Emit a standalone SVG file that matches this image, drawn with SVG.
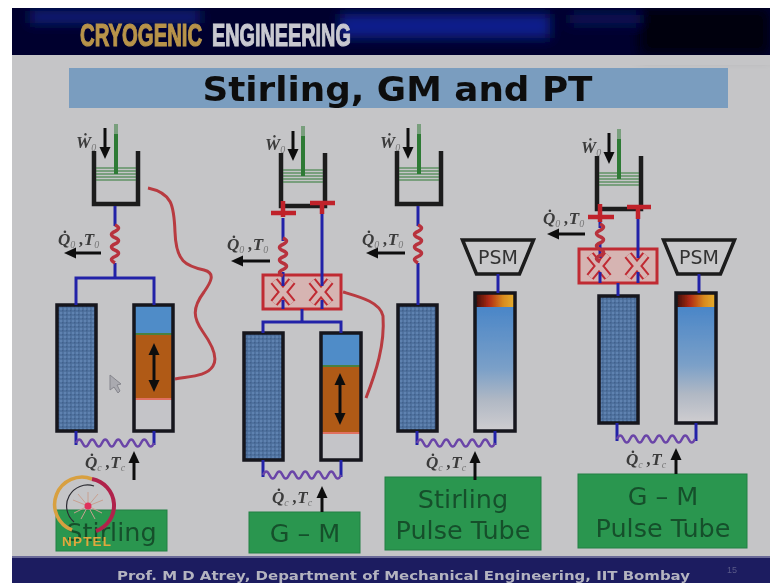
<svg xmlns="http://www.w3.org/2000/svg" xmlns:xlink="http://www.w3.org/1999/xlink" width="770" height="583" viewBox="0 0 770 583">
<style>
.wall{fill:none;stroke:#1e1e1e;stroke-width:4.500}
.rod{stroke:#2f7a35;stroke-width:4;fill:none}
.pl{stroke:#2f7a35;stroke-width:1.100;fill:none}
.blue{stroke:#2424a8;stroke-width:3;fill:none}
.coil{stroke:#b8303c;stroke-width:3.500;fill:none}
.wave{stroke:#6a45a8;stroke-width:2.500;fill:none}
.curve{stroke:#b83a40;stroke-width:3;fill:none}
.arr{stroke:#111;stroke-width:3;fill:none;marker-end:url(#ah)}
.dbl{stroke:#111;stroke-width:3;fill:none;marker-end:url(#ah);marker-start:url(#ahs)}
.sym{font-family:"Liberation Serif",serif;font-style:italic;font-weight:bold;font-size:17px;fill:#3a3a3a}
.sub{font-size:10px;font-weight:normal;fill:#777}
.box{fill:#2b9650;stroke:#228044;stroke-width:1}
.lab{font-family:"DejaVu Sans",sans-serif;fill:#14502c;text-anchor:middle;font-size:25.500px}
.reg{fill:url(#mesh);stroke:#15151c;stroke-width:3.500}
.tube{fill:none;stroke:#15151c;stroke-width:3.500}
.psm{fill:#c8c8ca;stroke:#1a1a1a;stroke-width:3.500}
.psmt{font-family:"DejaVu Sans",sans-serif;font-size:19px;fill:#333;text-anchor:middle}
.vbox{fill:#d6b4b2;stroke:#c02a32;stroke-width:3}
.vr{stroke:#c02a32;stroke-width:9;fill:none}
.vp{stroke:#d6b4b2;stroke-width:5;fill:none}
.vt{stroke:#c0202c;stroke-width:4.500;fill:none}
.hd{font-family:"Liberation Sans",sans-serif;font-weight:bold;font-size:31px;stroke-width:1.200}
</style>
<defs>
<filter id="soft" x="0" y="0" width="100%" height="100%"><feGaussianBlur stdDeviation="0.55"/></filter>
<filter id="bl" x="-20%" y="-50%" width="140%" height="200%"><feGaussianBlur stdDeviation="6"/></filter>
<marker id="ah" markerUnits="userSpaceOnUse" markerWidth="12" markerHeight="13" refX="1" refY="6.500" orient="auto"><path d="M0,1 L12,6.500 L0,12 Z" fill="#111"/></marker>
<marker id="ahs" markerUnits="userSpaceOnUse" markerWidth="12" markerHeight="13" refX="11" refY="6.500" orient="auto"><path d="M12,1 L0,6.500 L12,12 Z" fill="#111"/></marker>
<pattern id="mesh" width="4" height="4" patternUnits="userSpaceOnUse"><rect width="4" height="4" fill="#50729f"/><rect width="2" height="2" fill="#5f82b0"/><rect x="2" y="2" width="1.500" height="1.500" fill="#40608c"/></pattern>
<linearGradient id="hot" x1="0" x2="1" y1="0" y2="0"><stop offset="0" stop-color="#3a0c08"/><stop offset=".35" stop-color="#b02a14"/><stop offset=".7" stop-color="#d88a1e"/><stop offset="1" stop-color="#e6b030"/></linearGradient>
<linearGradient id="pt" x1="0" x2="0" y1="0" y2="1"><stop offset="0" stop-color="#4a86c8"/><stop offset=".5" stop-color="#7ba0c8"/><stop offset=".75" stop-color="#b0b8c4"/><stop offset="1" stop-color="#cfcdd0"/></linearGradient>
<g id="cyl">
<path class="wall" d="M0,0 V53 H44 V0"/>
<path class="rod" d="M22,-17 V23"/>
<path class="pl" d="M20,-26 H24 M20,-24 H24 M20,-22 H24 M20,-20 H24 M20,-18 H24 M2,17 H42 M2,20 H42 M2,23 H42 M2,26 H42 M2,29 H42"/>
</g>
<g id="vbx">
<rect class="vbox" x="0" y="0" width="78" height="34"/>
<path class="vr" d="M11,6 L29,28 M29,6 L11,28 M49,6 L67,28 M67,6 L49,28"/>
<path class="vp" d="M11,6 L29,28 M29,6 L11,28 M49,6 L67,28 M67,6 L49,28"/>
</g>
<path id="cl" class="coil" d="M0,0 q7,3 0,6.300 q-7,3 0,6.300 q7,3 0,6.300 q-7,3 0,6.300 q7,3 0,6.300 q-7,3 0,6.300"/>
<path id="wv" class="wave" d="M0,4 q3.250,-7 6.500,0 t6.500,0 t6.500,0 t6.500,0 t6.500,0 t6.500,0 t6.500,0 t6.500,0 t6.500,0 t6.500,0 t6.500,0 t6.500,0"/>
<g id="psmn">
<path class="psm" d="M0,0 H71 L57,34 H14 Z"/>
<text class="psmt" x="35.500" y="24">PSM</text>
</g>
</defs>
<rect width="770" height="583" fill="#fff"/>
<g filter="url(#soft)">
<rect x="12" y="8" width="758" height="575" fill="#c5c5c7"/>
<g id="header">
<rect x="12" y="8" width="758" height="47" fill="#03062e"/>
<g filter="url(#bl)">
<rect x="30" y="11" width="170" height="12" fill="#0e1c80"/>
<rect x="340" y="14" width="210" height="24" fill="#0a1a8c"/>
<rect x="570" y="14" width="110" height="10" fill="#0a1660"/>
<rect x="640" y="8" width="130" height="47" fill="#010210"/>
</g>
<rect x="0" y="0" width="770" height="8" fill="#fff"/>
<rect x="0" y="0" width="12" height="60" fill="#fff"/>
<rect x="12" y="55" width="758" height="10" fill="#c5c5c7"/>
<text class="hd" transform="translate(80,46) scale(.655,1)" fill="#b8934a" stroke="#b8934a">CRYOGENIC</text>
<text class="hd" transform="translate(212,46) scale(.64,1)" fill="#c8c8d0" stroke="#c8c8d0">ENGINEERING</text>
</g>
<g id="title">
<rect x="69" y="68" width="659" height="40" fill="#7a9dbf"/>
<text x="397.500" y="101" text-anchor="middle" font-family="'DejaVu Sans',sans-serif" font-weight="bold" font-size="33" fill="#111" textLength="390" lengthAdjust="spacingAndGlyphs">Stirling, GM and PT</text>
</g>
<g id="stirling">
<use xlink:href="#cyl" href="#cyl" x="94" y="151"/>
<text class="sym" x="76" y="148">W&#775;<tspan class="sub" dy="3">0</tspan></text>
<text class="sym" x="58" y="245">Q&#775;<tspan class="sub" dy="3">0</tspan><tspan dy="-3"> ,T</tspan><tspan class="sub" dy="3">0</tspan></text>
<rect class="reg" x="57" y="305" width="39" height="126"/>
<rect x="134" y="305" width="39" height="28" fill="#4f8cc8"/>
<rect x="134" y="333" width="39" height="2" fill="#4a8040"/>
<rect x="134" y="335" width="39" height="63" fill="#b05a18"/>
<rect x="134" y="398" width="39" height="2" fill="#e07060"/>
<rect x="134" y="400" width="39" height="31" fill="#c4c4c8"/>
<rect class="tube" x="134" y="305" width="39" height="126"/>
<path class="dbl" d="M154,354 V381"/>
<text class="sym" x="85" y="468">Q&#775;<tspan class="sub" dy="3">c</tspan><tspan dy="-3"> ,T</tspan><tspan class="sub" dy="3">c</tspan></text>
<rect class="box" x="56" y="510" width="111" height="41"/>
<text class="lab" x="111.500" y="541">Stirling</text>
</g>
<g id="gm">
<use xlink:href="#cyl" href="#cyl" x="281" y="153"/>
<path class="vt" d="M271,213 H296 M283,201 V217 M310,203 H335 M322,201 V214"/>
<text class="sym" x="265" y="150">W&#775;<tspan class="sub" dy="3">0</tspan></text>
<text class="sym" x="227" y="250">Q&#775;<tspan class="sub" dy="3">0</tspan><tspan dy="-3"> ,T</tspan><tspan class="sub" dy="3">0</tspan></text>
<use xlink:href="#vbx" href="#vbx" x="263" y="275"/>
<rect class="reg" x="244" y="333" width="39" height="127"/>
<rect x="321" y="333" width="40" height="32" fill="#4f8cc8"/>
<rect x="321" y="365" width="40" height="2" fill="#4a8040"/>
<rect x="321" y="367" width="40" height="65" fill="#b05a18"/>
<rect x="321" y="432" width="40" height="2" fill="#e07060"/>
<rect x="321" y="434" width="40" height="26" fill="#c4c4c8"/>
<rect class="tube" x="321" y="333" width="40" height="127"/>
<path class="dbl" d="M340,384 V414"/>
<text class="sym" x="272" y="503">Q&#775;<tspan class="sub" dy="3">c</tspan><tspan dy="-3"> ,T</tspan><tspan class="sub" dy="3">c</tspan></text>
<rect class="box" x="249" y="512" width="111" height="41"/>
<text class="lab" x="305" y="542">G – M</text>
</g>
<g id="stirling-pt">
<use xlink:href="#cyl" href="#cyl" x="397" y="151"/>
<text class="sym" x="380" y="148">W&#775;<tspan class="sub" dy="3">0</tspan></text>
<text class="sym" x="362" y="245">Q&#775;<tspan class="sub" dy="3">0</tspan><tspan dy="-3"> ,T</tspan><tspan class="sub" dy="3">0</tspan></text>
<rect class="reg" x="398" y="305" width="39" height="126"/>
<rect x="475" y="293" width="40" height="14" fill="url(#hot)"/>
<rect x="475" y="307" width="40" height="124" fill="url(#pt)"/>
<rect class="tube" x="475" y="293" width="40" height="138"/>
<use xlink:href="#psmn" href="#psmn" x="462.500" y="240"/>
<text class="sym" x="426" y="468">Q&#775;<tspan class="sub" dy="3">c</tspan><tspan dy="-3"> ,T</tspan><tspan class="sub" dy="3">c</tspan></text>
<rect class="box" x="385" y="477" width="156" height="73"/>
<text class="lab" x="463" y="508">Stirling</text>
<text class="lab" x="463" y="539">Pulse Tube</text>
</g>
<g id="gm-pt">
<use xlink:href="#cyl" href="#cyl" x="597" y="156"/>
<path class="vt" d="M588,217 H614 M600,204 V222 M627,207 H651 M638,205 V219"/>
<text class="sym" x="581" y="153">W&#775;<tspan class="sub" dy="3">0</tspan></text>
<text class="sym" x="543" y="224">Q&#775;<tspan class="sub" dy="3">0</tspan><tspan dy="-3"> ,T</tspan><tspan class="sub" dy="3">0</tspan></text>
<use xlink:href="#vbx" href="#vbx" x="579" y="249"/>
<rect class="reg" x="599" y="296" width="39" height="127"/>
<rect x="676" y="293" width="40" height="14" fill="url(#hot)"/>
<rect x="676" y="307" width="40" height="116" fill="url(#pt)"/>
<rect class="tube" x="676" y="293" width="40" height="130"/>
<use xlink:href="#psmn" href="#psmn" x="663.500" y="240"/>
<text class="sym" x="626" y="465">Q&#775;<tspan class="sub" dy="3">c</tspan><tspan dy="-3"> ,T</tspan><tspan class="sub" dy="3">c</tspan></text>
<rect class="box" x="578" y="474" width="169" height="74"/>
<text class="lab" x="663" y="505">G – M</text>
<text class="lab" x="663" y="537">Pulse Tube</text>
</g>
<g id="connectors">
<path class="blue" d="M115,206 V226 M115,263 V278 M76,305 V278 H154 V305"/>
<use xlink:href="#cl" href="#cl" x="115" y="225"/>
<path class="blue" d="M76,431 V445 M154,431 V445"/>
<use xlink:href="#wv" href="#wv" x="76" y="439"/>
<path class="curve" d="M148,188 C172,193 174,205 175,232 C176,262 186,266 204,270 C216,273 211,282 204,292 C192,308 193,318 203,332 C213,346 218,358 213,366 C207,376 192,376 175,379"/>
<path class="arr" d="M101,253 H75"/>
<path class="arr" d="M105,128 V148"/>
<path class="arr" d="M134,480 V462"/>
<path class="blue" d="M283,218 V241 M283,272 V286 M283,300 V309 M322,214 V286 M322,300 V309 M302,309 V322 M263,333 V322 H341 V333"/>
<use xlink:href="#cl" href="#cl" x="283" y="238"/>
<path class="blue" d="M263,460 V477 M341,460 V477"/>
<use xlink:href="#wv" href="#wv" x="263" y="471"/>
<path class="curve" d="M343,292 C360,297 380,302 383,316 C385,345 376,372 366,398"/>
<path class="arr" d="M270,261 H242"/>
<path class="arr" d="M293,131 V150"/>
<path class="arr" d="M322,512 V497"/>
<path class="blue" d="M418,206 V226 M418,263 V305 M498,274 V293"/>
<use xlink:href="#cl" href="#cl" x="418" y="225"/>
<path class="blue" d="M417,431 V445 M495,431 V445"/>
<use xlink:href="#wv" href="#wv" x="417" y="439"/>
<path class="arr" d="M405,253 H377"/>
<path class="arr" d="M408,128 V148"/>
<path class="arr" d="M475,480 V462"/>
<path class="blue" d="M600,222 V228 M600,244 V258 M600,272 V283 M638,219 V258 M638,272 V283 M618,283 V296 M699,274 V293"/>
<use xlink:href="#cl" href="#cl" x="600" y="224"/>
<path class="blue" d="M617,423 V441 M696,423 V441"/>
<use xlink:href="#wv" href="#wv" x="617" y="435"/>
<path class="arr" d="M585,234 H558"/>
<path class="arr" d="M609,133 V153"/>
<path class="arr" d="M676,474 V459"/>
</g>
<g id="cursor">
<path d="M110,375 L110,390 L114,387 L118,393 L120,391 L117,385 L121,384 Z" fill="#aaaab0" stroke="#85858c" stroke-width="1"/>
</g>
<g id="nptel-logo" fill="none">
<path d="M72,530 A27,27 0 0 1 92,479" stroke="#d8a040" stroke-width="3.500"/>
<path d="M92,479 A27,27 0 0 1 96,531" stroke="#b0244c" stroke-width="4"/>
<path d="M74,522 A21,21 0 0 1 94,486" stroke="#2a2a30" stroke-width="1.200"/>
<path d="M88,506 L88,492 M88,506 L98,494 M88,506 L103,500 M88,506 L102,513 M88,506 L95,519 M88,506 L81,519 M88,506 L74,513 M88,506 L73,500 M88,506 L78,494" stroke="#c8a090" stroke-width="1"/>
<circle cx="88" cy="506" r="3.500" fill="#e0305c"/>
<text x="62" y="546" font-family="'Liberation Sans',sans-serif" font-weight="bold" font-size="13.500" letter-spacing="1.200" fill="#e0a83c">NPTEL</text>
</g>
<g id="footer">
<rect x="12" y="557" width="758" height="26" fill="#1b1b60"/>
<rect x="12" y="556" width="758" height="2" fill="#6a6a98"/>
<text x="117" y="580" font-family="'DejaVu Sans',sans-serif" font-weight="bold" font-size="13" fill="#b4b4c0" textLength="573" lengthAdjust="spacingAndGlyphs">Prof. M D Atrey, Department of Mechanical Engineering, IIT Bombay</text>
<text x="727" y="573" font-family="'Liberation Sans',sans-serif" font-size="9" fill="#5a5a88">15</text>
</g>
</g>
</svg>
